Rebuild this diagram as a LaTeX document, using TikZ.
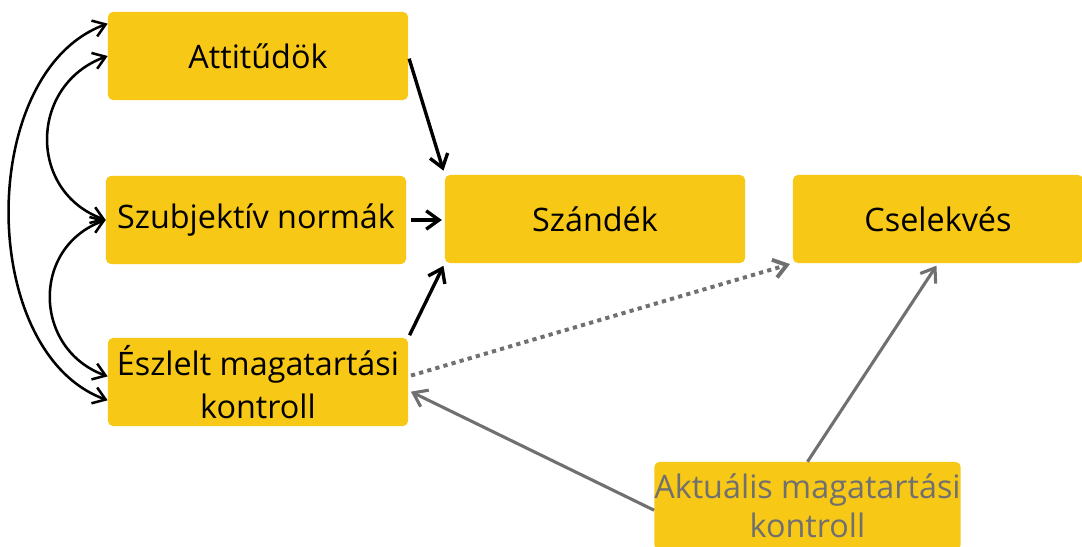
\documentclass[tikz,border=0pt]{standalone}
\usepackage{fontspec}
\setmainfont{Open Sans}
\usepackage{xcolor}
\usetikzlibrary{arrows.meta, positioning}
\definecolor{boxyellow}{RGB}{247,200,21}
\definecolor{arrowgray}{RGB}{112,112,112}

\begin{document}
\begin{tikzpicture}[x=0.025cm,y=0.025cm,
  box/.style={fill=boxyellow,rounded corners=3.5pt,minimum width=7.5cm,minimum height=2.2cm,
    align=center,inner sep=0pt,font=\fontsize{23}{31}\selectfont},
  blk/.style={line width=2.4pt,-{Straight Barb[length=3.2mm,width=4.6mm]}},
  both/.style={line width=1.8pt,{Straight Barb[length=3mm,width=4.2mm]}-{Straight Barb[length=3mm,width=4.2mm]}},
  gry/.style={line width=2.2pt,arrowgray,-{Straight Barb[length=3.2mm,width=4.6mm]}}]
\useasboundingbox (0,0) rectangle (1082,546);
\node[box] (att) at (258,490) {Attitűdök};
\node[box] (szub) at (256,326) {Szubjektív normák};
\node[box] (eszl) at (258,164) {Észlelt magatartási\\kontroll};
\node[box] (szand) at (595,327) {Szándék};
\node[box,minimum width=7.25cm] (csel) at (938,327) {Cselekvés};
\node[box,minimum width=7.625cm,text=arrowgray,font=\fontsize{23}{27.5}\selectfont] (akt) at (807.5,40) {Aktuális magatartási\\kontroll};

\draw[both] (att.west) to[out=200,in=160,looseness=1.3] (szub.west);
\draw[both] (szub.west) to[out=200,in=160,looseness=1.3] ([yshift=4]eszl.west);
\draw[both] ([yshift=23]att.west) to[out=200,in=160,looseness=0.95] ([yshift=-13]eszl.west);

\draw[blk,shorten <=2pt,shorten >=3pt] (att.east) -- (szand.north west);
\draw[blk,shorten <=3pt,shorten >=2pt] (szub.east) -- (szub.east -| szand.west);
\draw[blk,shorten <=2pt,shorten >=2pt] (eszl.north east) -- (szand.south west);

\draw[gry,line width=2.8pt,dash pattern=on 3pt off 3pt,shorten <=2pt,shorten >=2pt] ([yshift=4]eszl.east) -- (csel.south west);
\draw[gry,shorten >=2pt] (akt.north) -- (csel.south);
\draw[gry,shorten >=2pt] ([yshift=-3]akt.west) -- ([yshift=-6]eszl.east);
\end{tikzpicture}
\end{document}
